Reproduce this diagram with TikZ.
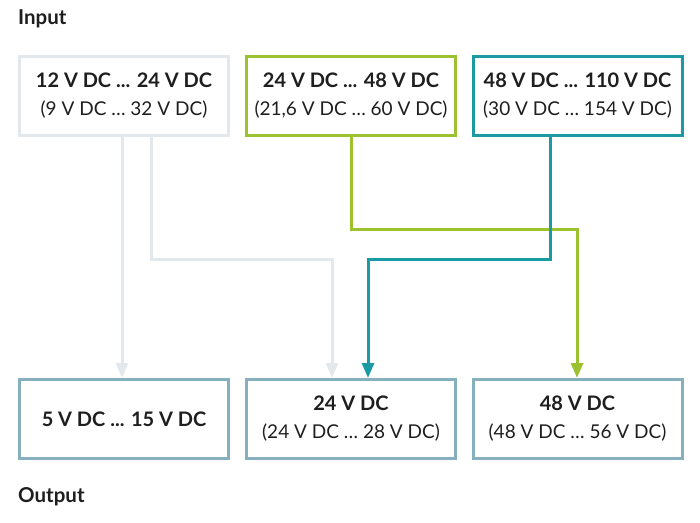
\documentclass[tikz,border=0pt]{standalone}
\usepackage{fontspec}
\setmainfont{Lato}
\usetikzlibrary{arrows.meta}
\definecolor{lgray}{HTML}{E3E8EC}
\definecolor{lgreen}{HTML}{9CC230}
\definecolor{teal2}{HTML}{1A9BA4}
\definecolor{outb}{HTML}{86B0BD}
\definecolor{txt}{HTML}{1E1E1E}
\begin{document}
\begin{tikzpicture}[x=1pt,y=-1pt,
  box/.style={draw,line width=3pt,minimum width=209pt,minimum height=79pt,inner sep=0pt,align=center,text=txt,font=\fontsize{19}{28}\selectfont},
  ttl/.style={font=\bfseries\fontsize{20}{28}\selectfont},
  lab/.style={anchor=west,font=\bfseries\fontsize{20.5}{22}\selectfont,text=txt,inner sep=0pt},
  conn/.style={line width=3pt,-{Triangle[length=15pt,width=12pt]}}]
\useasboundingbox (0,0) rectangle (700,522);
\node[lab] (in) at (18,19) {Input};
\node[lab] (out) at (18,497) {Output};
\node[box,draw=lgray] (a) at (124,96) {{\bfseries\fontsize{20}{28}\selectfont 12 V DC ... 24 V DC}\\(9 V DC … 32 V DC)};
\node[box,draw=lgreen] (b) at (351,96) {{\bfseries\fontsize{20}{28}\selectfont 24 V DC ... 48 V DC}\\(21,6 V DC … 60 V DC)};
\node[box,draw=teal2] (c) at (577.5,96) {{\bfseries\fontsize{20}{28}\selectfont 48 V DC ... 110 V DC}\\(30 V DC … 154 V DC)};
\node[box,draw=outb] (d) at (124,419) {{\bfseries\fontsize{20}{28}\selectfont 5 V DC ... 15 V DC}};
\node[box,draw=outb] (e) at (351,419) {{\bfseries\fontsize{20}{28}\selectfont 24 V DC}\\(24 V DC … 28 V DC)};
\node[box,draw=outb] (f) at (577.5,419) {{\bfseries\fontsize{20}{28}\selectfont 48 V DC}\\(48 V DC … 56 V DC)};
\draw[conn,draw=lgray] (a.south -| 122,0) -- (d.north -| 122,0);
\draw[conn,draw=lgray] (a.south -| 151,0) |- (332,259) -- (e.north -| 332,0);
\draw[conn,draw=lgreen] (b.south -| 351,0) |- (577,229) -- (f.north -| 577,0);
\draw[conn,draw=teal2] (c.south -| 550,0) |- (368,259) -- (e.north -| 368,0);
\end{tikzpicture}
\end{document}
